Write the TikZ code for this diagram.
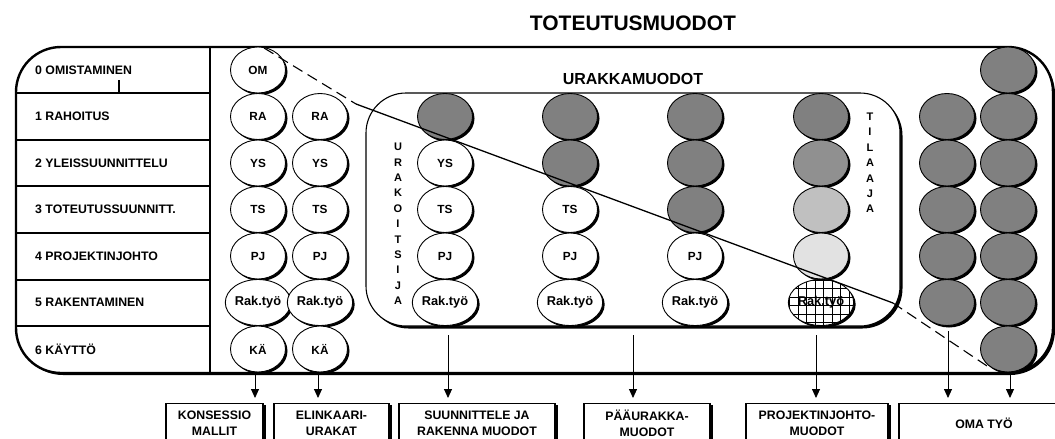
\documentclass[tikz,border=0pt]{standalone}
\usepackage{fontspec}
\setmainfont{Liberation Sans}
\usetikzlibrary{shapes.geometric,shadows,arrows.meta}
\definecolor{gA}{HTML}{808080}
\definecolor{gB}{HTML}{909090}
\definecolor{gC}{HTML}{C0C0C0}
\definecolor{gD}{HTML}{E2E2E2}
\begin{document}
\begin{tikzpicture}[x=1pt,y=-1pt,
  shad/.style={drop shadow={shadow xshift=2pt,shadow yshift=-2pt,opacity=1,fill=black}},
  ell/.style={ellipse,draw,line width=0.9pt,minimum width=55pt,minimum height=46pt,inner sep=0pt,fill=white,shad,font=\fontsize{11.8}{13}\selectfont\bfseries},
  rk/.style={ell,font=\fontsize{12.8}{13}\selectfont\bfseries},
  gry/.style={ell,fill=#1},
  rowlbl/.style={anchor=west,inner sep=0pt,font=\fontsize{12.3}{14}\selectfont\bfseries},
  vt/.style={align=center,inner sep=0pt,font=\fontsize{11}{15.4}\selectfont\bfseries},
  bbox/.style={draw,line width=1.2pt,fill=white,minimum height=40pt,anchor=north,align=center,inner sep=0pt,
    drop shadow={shadow xshift=2.5pt,shadow yshift=-1pt,opacity=1,fill=black},
    font=\fontsize{12.3}{16}\selectfont\bfseries},
  arr/.style={line width=0.9pt,-{Triangle[width=8pt,length=9pt]}},
  sep/.style={line width=2pt}
]
\useasboundingbox (0,0) rectangle (1055,439);
\clip (0,0) rectangle (1055,439);
\fill[white] (0,0) rectangle (1055,439);

% outer box
\draw[line width=2.4pt,fill=white,rounded corners=45pt,
  drop shadow={shadow xshift=2pt,shadow yshift=-2pt,opacity=1,fill=black}]
  (16,47) rectangle (1053,373);

% table rows
\foreach \yy in {93,139.5,186,233,279.5,326} \draw[sep] (16,\yy) -- (210,\yy);
\draw[sep] (210,47) -- (210,373);
\draw[line width=1.6pt] (119,80) -- (119,93);

\node[rowlbl] (r0) at (35,70) {0 OMISTAMINEN};
\node[rowlbl] (r1) at (35,116.5) {1 RAHOITUS};
\node[rowlbl] (r2) at (35,163) {2 YLEISSUUNNITTELU};
\node[rowlbl] (r3) at (35,209.5) {3 TOTEUTUSSUUNNITT.};
\node[rowlbl] (r4) at (35,256) {4 PROJEKTINJOHTO};
\node[rowlbl] (r5) at (35,302.5) {5 RAKENTAMINEN};
\node[rowlbl] (r6) at (35,349) {6 KÄYTTÖ};

% inner box
\draw[line width=1.1pt,fill=white,rounded corners=40pt,
  drop shadow={shadow xshift=2.5pt,shadow yshift=-2.5pt,opacity=1,fill=black}]
  (366,93) rectangle (900,326);

\node[font=\fontsize{16}{18}\selectfont\bfseries,inner sep=0pt] (urk) at (633,79) {URAKKAMUODOT};
\node[font=\fontsize{21}{23}\selectfont\bfseries,inner sep=0pt] (ttl) at (633,23) {TOTEUTUSMUODOT};

% column 1
\node[ell] (a0) at (258,70) {OM};
\node[ell] (a1) at (258,116.5) {RA};
\node[ell] (a2) at (258,163) {YS};
\node[ell] (a3) at (258,209.5) {TS};
\node[ell] (a4) at (258,256) {PJ};
\node[rk]  (a5) at (258,302.5) {Rak.työ};
\node[ell] (a6) at (258,349) {KÄ};
% column 2
\node[ell] (b1) at (320,116.5) {RA};
\node[ell] (b2) at (320,163) {YS};
\node[ell] (b3) at (320,209.5) {TS};
\node[ell] (b4) at (320,256) {PJ};
\node[rk]  (b5) at (320,302.5) {Rak.työ};
\node[ell] (b6) at (320,349) {KÄ};
% column A
\node[gry=gA] (c1) at (445,116.5) {};
\node[ell] (c2) at (445,163) {YS};
\node[ell] (c3) at (445,209.5) {TS};
\node[ell] (c4) at (445,256) {PJ};
\node[rk]  (c5) at (445,302.5) {Rak.työ};
% column B
\node[gry=gA] (d1) at (570,116.5) {};
\node[gry=gA] (d2) at (570,163) {};
\node[ell] (d3) at (570,209.5) {TS};
\node[ell] (d4) at (570,256) {PJ};
\node[rk]  (d5) at (570,302.5) {Rak.työ};
% column C
\node[gry=gA] (e1) at (695,116.5) {};
\node[gry=gA] (e2) at (695,163) {};
\node[gry=gA] (e3) at (695,209.5) {};
\node[ell] (e4) at (695,256) {PJ};
\node[rk]  (e5) at (695,302.5) {Rak.työ};
% column D
\node[gry=gA] (f1) at (821,116.5) {};
\node[gry=gB] (f2) at (821,163) {};
\node[gry=gC] (f3) at (821,209.5) {};
\node[gry=gD] (f4) at (821,256) {};
\node[rk,path picture={\draw[line width=0.7pt,step=8.5pt] ([xshift=-1pt,yshift=-1pt]path picture bounding box.south west) grid ([xshift=1pt,yshift=1pt]path picture bounding box.north east);}] (f5) at (821,302.5) {Rak.työ};
% column E
\foreach \i/\yy in {1/116.5,2/163,3/209.5,4/256,5/302.5}
  \node[gry=gA] (g\i) at (947,\yy) {};
% column F
\foreach \i/\yy in {0/70,1/116.5,2/163,3/209.5,4/256,5/302.5,6/349}
  \node[gry=gA] (h\i) at (1008,\yy) {};

% vertical words
\node[vt] (urakoitsija) at (398,224) {U\\R\\A\\K\\O\\I\\T\\S\\I\\J\\A};
\node[vt] (tilaaja) at (870,163) {T\\I\\L\\A\\A\\J\\A};

% diagonal
\coordinate (p0) at (264,48);
\coordinate (p1) at (356,104);
\coordinate (p2) at (893,303);
\coordinate (p3) at (987,366);
\draw[line width=1.1pt,dash pattern=on 11pt off 6pt] (p0) -- (p1);
\draw[line width=1.3pt] (p1) -- (p2);
\draw[line width=1.1pt,dash pattern=on 11pt off 6pt] (p2) -- (p3);

% bottom boxes
\node[bbox,minimum width=97pt]  (k1) at (214.5,403) {KONSESSIO\\MALLIT};
\node[bbox,minimum width=115pt] (k2) at (331.5,403) {ELINKAARI-\\URAKAT};
\node[bbox,minimum width=156pt] (k3) at (477,403) {SUUNNITTELE JA\\RAKENNA MUODOT};
\node[bbox,minimum width=126pt] (k4) at (647,403) {PÄÄURAKKA-\\MUODOT};
\node[bbox,minimum width=142pt] (k5) at (817,403) {PROJEKTINJOHTO-\\MUODOT};
\node[bbox,minimum width=170pt] (k6) at (984,403) {OMA TYÖ};

% arrows
\coordinate (s1) at (255,374);
\coordinate (s2) at (318,374);
\coordinate (s3) at (448,335);
\coordinate (s4) at (633,335);
\coordinate (s5) at (816,335);
\coordinate (s6) at (948,331);
\coordinate (s7) at (1010,374);
\draw[arr,shorten >=5pt] (s1) -- (s1 |- k1.north);
\draw[arr,shorten >=5pt] (s2) -- (s2 |- k2.north);
\draw[arr,shorten >=5pt] (s3) -- (s3 |- k3.north);
\draw[arr,shorten >=5pt] (s4) -- (s4 |- k4.north);
\draw[arr,shorten >=5pt] (s5) -- (s5 |- k5.north);
\draw[arr,shorten >=5pt] (s6) -- (s6 |- k6.north);
\draw[arr,shorten >=5pt] (s7) -- (s7 |- k6.north);
\end{tikzpicture}
\end{document}
